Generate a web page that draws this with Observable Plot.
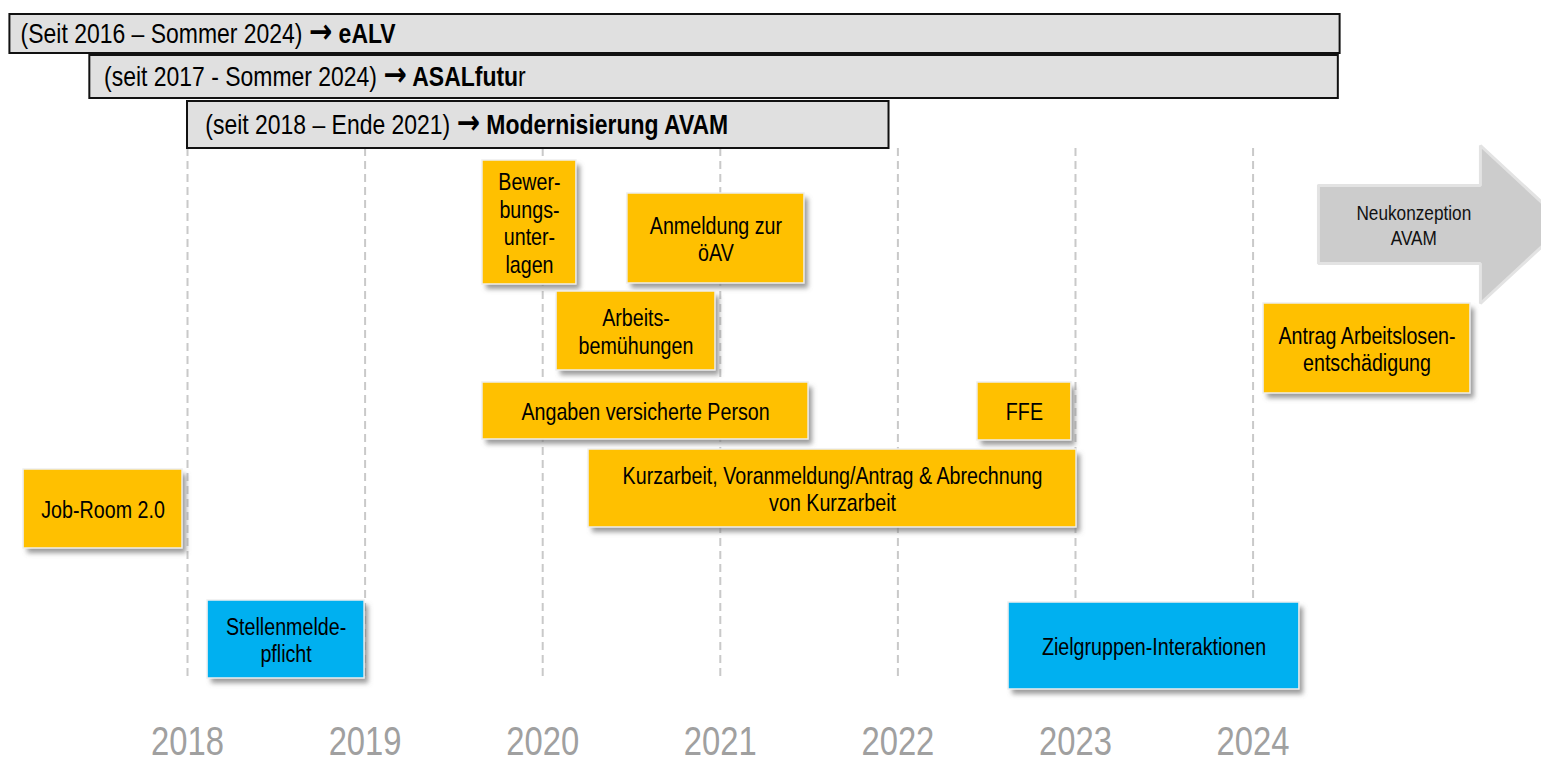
<!DOCTYPE html>
<html><head><meta charset="utf-8">
<script src="https://cdn.jsdelivr.net/npm/d3@7"></script>
<script src="https://cdn.jsdelivr.net/npm/@observablehq/plot@0.6"></script>
<style>
html,body{margin:0;padding:0;background:#fff;overflow:hidden}
</style></head><body><div id="chart"></div>
<script>
const FONT = '"Liberation Sans", Arial, sans-serif';
const NARROW = 0.82; // horizontal squeeze to imitate Arial Narrow

// Year grid / axis
const years = [2018, 2019, 2020, 2021, 2022, 2023, 2024];

// Programme bars (gray)
const barNormal = ["(Seit 2016 – Sommer 2024)", "(seit 2017 - Sommer 2024)", "(seit 2018 – Ende 2021)"];
const barArrow  = "→";
const barBold   = ["eALV", "ASALfutu", "Modernisierung AVAM"];
const barTail   = ["", "r", ""];
const barStart  = [2017.00, 2017.45, 2018.00];
const barEnd    = [2024.49, 2024.48, 2021.95];
const barTextAt = [2017.06, 2017.53, 2018.10];
const barTop    = [1.4, 5.5, 10.1];
const barBottom = [5.3, 9.8, 14.8];

// Projects (boxes)
const taskLabels = [
  "Bewer-\nbungs-\nunter-\nlagen",
  "Anmeldung zur\nöAV",
  "Arbeits-\nbemühungen",
  "Angaben versicherte Person",
  "FFE",
  "Kurzarbeit, Voranmeldung/Antrag & Abrechnung\nvon Kurzarbeit",
  "Job-Room 2.0",
  "Antrag Arbeitslosen-\nentschädigung",
  "Stellenmelde-\npflicht",
  "Zielgruppen-Interaktionen"
];
const taskKind   = ["gelb","gelb","gelb","gelb","gelb","gelb","gelb","gelb","blau","blau"];
const taskStart  = [2019.661, 2020.477, 2020.078, 2019.661, 2022.448, 2020.258, 2017.077, 2024.059, 2018.113, 2022.623];
const taskEnd    = [2020.190, 2021.474, 2020.973, 2021.497, 2022.977, 2023.006, 2017.972, 2025.224, 2018.997, 2024.261];
const taskTop    = [16.0, 19.3, 29.1, 38.2, 38.2, 44.9, 46.9, 30.3, 60.0, 60.2];
const taskBottom = [28.4, 28.3, 37.0, 43.9, 44.0, 52.7, 54.8, 39.3, 67.8, 68.9];

// Outlook arrow
const arrowLabel = "Neukonzeption\nAVAM";
const arrowStart = 2024.368, arrowNeck = 2025.280, arrowTip = 2025.76;
const arrowBodyTop = 18.5, arrowBodyBottom = 26.3, arrowHeadTop = 14.5, arrowHeadBottom = 30.3;
const arrowLabelAt = 2024.905;

// Guide lines extent
const guideTop = 14.8, guideBottom = 67.8;

const bars = barNormal.map((t, i) => ({normal: t, x1: barStart[i], x2: barEnd[i], at: barTextAt[i], y1: barTop[i], y2: barBottom[i]}));
const tasks = taskLabels.map((label, i) => ({label, kind: taskKind[i], x1: taskStart[i], x2: taskEnd[i], y1: taskTop[i], y2: taskBottom[i]}));
const arrowMid = (arrowHeadTop + arrowHeadBottom) / 2;
const arrowPoly = [
  {x: arrowStart, y: arrowBodyTop}, {x: arrowNeck, y: arrowBodyTop}, {x: arrowNeck, y: arrowHeadTop},
  {x: arrowTip, y: arrowMid}, {x: arrowNeck, y: arrowHeadBottom}, {x: arrowNeck, y: arrowBodyBottom},
  {x: arrowStart, y: arrowBodyBottom}, {x: arrowStart, y: arrowBodyTop}
];
const SHADOW = "#7a7a7a";

const plot = Plot.plot({
  width: 1541, height: 765,
  marginLeft: 0, marginRight: 0, marginTop: 0, marginBottom: 39,
  x: {domain: [2016.947, 2025.624], range: [0, 1541]},
  y: {domain: [0, 76.5], range: [0, 765], axis: null},
  color: {domain: ["gelb", "blau"], range: ["#FFC000", "#00B0F0"]},
  style: {fontFamily: FONT, background: "#fff"},
  marks: [
    Plot.ruleX(years, {x: d => d, y1: guideTop, y2: guideBottom, stroke: "#c9c9c9", strokeWidth: 2, strokeDasharray: "8,5"}),
    Plot.axisX(years, {anchor: "bottom", tickSize: 0, tickPadding: 0, tickFormat: d => String(d), fontSize: 40, color: "#a0a0a0", fill: "#a0a0a0", label: null}),
    Plot.rect(bars, {x1: "x1", x2: "x2", y1: "y1", y2: "y2", fill: "#e0e0e0", stroke: "#111", strokeWidth: 2}),
    Plot.text(bars, {x: "at", y: d => (d.y1 + d.y2) / 2, text: "normal", textAnchor: "start", fontSize: 28, fill: "#000"}),
    Plot.rect(tasks, {x1: "x1", x2: "x2", y1: "y1", y2: "y2", fill: SHADOW, fillOpacity: 0.75, dx: 4, dy: 5}),
    Plot.line(arrowPoly, {x: "x", y: "y", fill: "#cccccc", stroke: "#e3e3e3", strokeWidth: 3, strokeLinejoin: "miter"}),
    Plot.text([arrowLabel], {x: arrowLabelAt, y: arrowMid, text: d => d, fontSize: 21, lineHeight: 1.2, fill: "#111"}),
    Plot.rect(tasks, {x1: "x1", x2: "x2", y1: "y1", y2: "y2", fill: "kind", stroke: "#eeeeee", strokeWidth: 1.5}),
    Plot.text(tasks, {x: d => (d.x1 + d.x2) / 2, y: d => (d.y1 + d.y2) / 2, text: "label", fontSize: 24, lineHeight: 1.15, fill: "#000"})
  ]
});

const svg = d3.select(plot);
const defs = svg.insert("defs", ":first-child");
defs.append("filter").attr("id", "blurShadow").attr("x", "-10%").attr("y", "-20%").attr("width", "130%").attr("height", "150%")
  .append("feGaussianBlur").attr("stdDeviation", 2.5);
svg.selectAll(`g[fill="${SHADOW}"]`).attr("filter", "url(#blurShadow)");

// mixed normal / bold bar labels
svg.selectAll("text").each(function () {
  const t = this.textContent;
  const i = barNormal.indexOf(t);
  if (i < 0) return;
  const el = d3.select(this);
  el.style("white-space", "pre").text(null);
  el.append("tspan").text(t + " ");
  el.append("tspan").attr("font-family", '"DejaVu Sans", sans-serif').attr("font-weight", "bold").attr("font-size", 34).text(barArrow);
  el.append("tspan").attr("font-weight", "bold").text(" " + barBold[i]);
  if (barTail[i]) el.append("tspan").text(barTail[i]);
});

// condensed look (Arial Narrow imitation)
svg.selectAll("text").each(function () {
  const tr = this.getAttribute("transform");
  if (tr) {
    this.setAttribute("transform", tr + ` scale(${NARROW},1)`);
  } else {
    const x = +(this.getAttribute("x") || 0), y = +(this.getAttribute("y") || 0);
    this.removeAttribute("x"); this.removeAttribute("y");
    this.setAttribute("transform", `translate(${x},${y}) scale(${NARROW},1)`);
  }
});

document.getElementById("chart").appendChild(plot);
</script>
</body></html>
